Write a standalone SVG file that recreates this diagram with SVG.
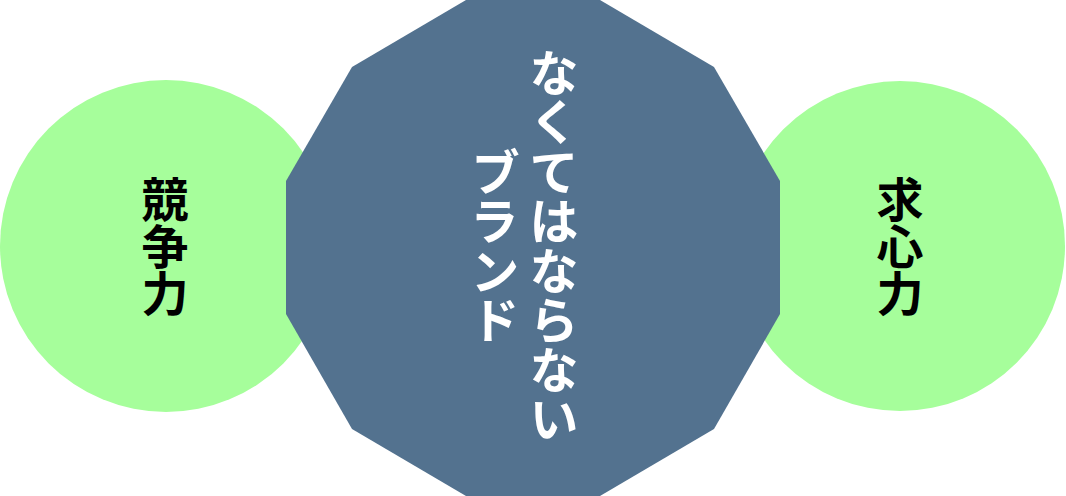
<svg xmlns="http://www.w3.org/2000/svg" width="1066" height="496" viewBox="0 0 1066 496">
<style>
.circle{fill:#a6fe9b}
.poly{fill:#53728f}
.t{font-family:"Noto Sans CJK JP","Noto Sans",sans-serif;font-weight:bold;writing-mode:vertical-rl;text-anchor:middle}
.dark{fill:#000;font-size:47px}
.light{fill:#fff;font-size:49.5px}
</style>
<rect width="1066" height="496" fill="#fff"/>
<g id="node-left">
<circle class="circle" cx="166" cy="246" r="166"/>
<text class="t dark" x="165" y="246">競争力</text>
</g>
<g id="node-right">
<circle class="circle" cx="900" cy="246" r="165"/>
<text class="t dark" x="900" y="246">求心力</text>
</g>
<g id="node-center">
<polygon class="poly" points="466,0 600,0 714,67 780,181 780,314 714,429 600,496 466,496 352,429 286,314 286,181 352,67"/>
<text class="t light" x="554" y="246">なくてはならない</text>
<text class="t light" x="495" y="246">ブランド</text>
</g>
<g id="connectors"></g>
</svg>
